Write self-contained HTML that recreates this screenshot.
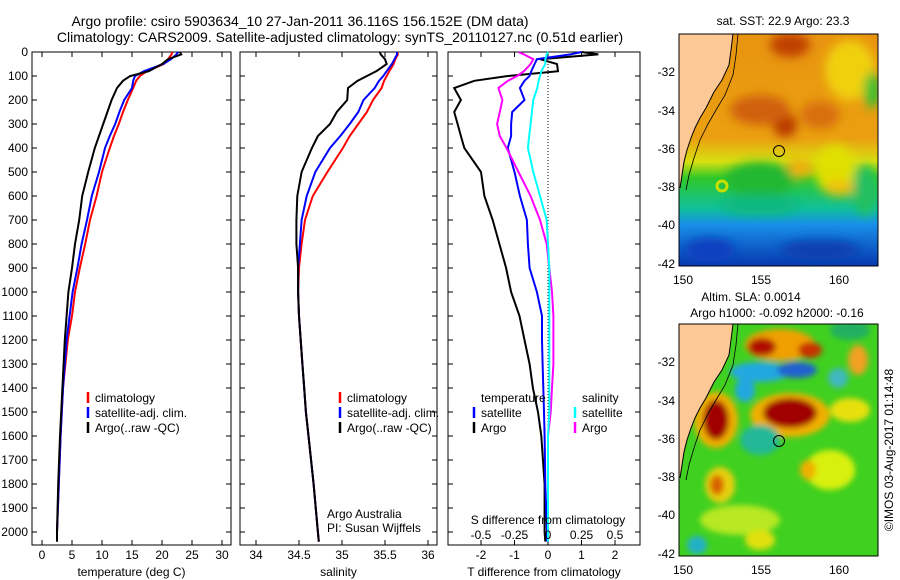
<!DOCTYPE html>
<html><head><meta charset="utf-8"><style>
html,body{margin:0;padding:0;background:#fff;}
svg{display:block;font-family:"Liberation Sans","DejaVu Sans",sans-serif;}
</style></head><body>
<svg id="fig" width="900" height="580" viewBox="0 0 900 580" xmlns="http://www.w3.org/2000/svg">
<defs>
<filter id="blr" x="-50%" y="-50%" width="200%" height="200%"><feGaussianBlur stdDeviation="5"/></filter>
<filter id="blr2" x="-50%" y="-50%" width="200%" height="200%"><feGaussianBlur stdDeviation="3"/></filter>
<clipPath id="c1"><rect x="679" y="34" width="199" height="232"/></clipPath>
<clipPath id="c2"><rect x="679" y="324" width="199" height="232"/></clipPath>
<linearGradient id="sstg" x1="0" y1="0" x2="0" y2="1">
<stop offset="0" stop-color="#e89410"/><stop offset="0.45" stop-color="#eaa010"/>
<stop offset="0.55" stop-color="#d8e010"/><stop offset="0.62" stop-color="#30c828"/>
<stop offset="0.75" stop-color="#10c098"/><stop offset="0.82" stop-color="#1890e8"/>
<stop offset="1" stop-color="#0838b0"/></linearGradient>
</defs>
<g font-size="14" text-anchor="middle" fill="#000">
<text x="300" y="26">Argo profile: csiro 5903634_10 27-Jan-2011 36.116S 156.152E (DM data)</text>
<text x="340" y="42">Climatology: CARS2009. Satellite-adjusted climatology: synTS_20110127.nc (0.51d earlier)</text>
</g>
<g id="charts"></g>

<!-- SST map -->
<g>
<text x="783" y="25" font-size="12" text-anchor="middle">sat. SST: 22.9 Argo: 23.3</text>
<g clip-path="url(#c1)">
<rect x="679" y="34" width="199" height="232" fill="url(#sstg)"/>
<g filter="url(#blr)">
<ellipse cx="790" cy="45" rx="20" ry="12" fill="#c04000"/>
<ellipse cx="785" cy="125" rx="12" ry="12" fill="#b83800"/>
<ellipse cx="760" cy="110" rx="30" ry="15" fill="#d06008"/>
<ellipse cx="820" cy="115" rx="20" ry="14" fill="#d87010"/>
<ellipse cx="850" cy="70" rx="25" ry="30" fill="#f0d010"/>
<ellipse cx="872" cy="90" rx="8" ry="18" fill="#30c030"/>
<ellipse cx="835" cy="170" rx="20" ry="25" fill="#e0e000"/>
<ellipse cx="800" cy="168" rx="14" ry="10" fill="#f0b010"/>
<ellipse cx="840" cy="188" rx="16" ry="8" fill="#f0c010"/>
<ellipse cx="760" cy="180" rx="35" ry="18" fill="#20b830"/>
<ellipse cx="760" cy="205" rx="40" ry="10" fill="#10b880"/>
<ellipse cx="820" cy="250" rx="40" ry="10" fill="#0840b0"/>
<ellipse cx="710" cy="250" rx="25" ry="12" fill="#1040c0"/>
<ellipse cx="865" cy="190" rx="12" ry="25" fill="#20c060"/>
</g>
<circle cx="722" cy="186" r="5" fill="none" stroke="#c8e000" stroke-width="3"/>
<polygon points="679,34 733,34 731,50 729,65 722,80 714,92 706,108 700,118 695,128 691,138 687,150 684,162 682,175 680,188 679,190" fill="#fbc896"/>
<polyline points="733,34 731,50 729,65 722,80 714,92 706,108 700,118 695,128 691,138 687,150 684,162 682,175 680,188" fill="none" stroke="#000" stroke-width="1"/>
<polyline points="738,34 736,55 733,75 725,95 716,110 708,124 700,140 694,158 689,175 686,190" fill="none" stroke="#000" stroke-width="0.8"/>
</g>
<circle cx="779" cy="151" r="5.5" fill="none" stroke="#000" stroke-width="1"/>
<rect x="679" y="34" width="199" height="232" fill="none" stroke="#000"/>
<g font-size="12" text-anchor="end"><text x="675" y="76">-32</text><text x="675" y="115">-34</text><text x="675" y="153">-36</text><text x="675" y="191">-38</text><text x="675" y="229">-40</text><text x="675" y="268">-42</text></g>
<g font-size="12" text-anchor="middle"><text x="683" y="284">150</text><text x="761" y="284">155</text><text x="839" y="284">160</text></g>
</g>

<!-- SLA map -->
<g>
<text x="751" y="301" font-size="12" text-anchor="middle">Altim. SLA: 0.0014</text>
<text x="777" y="317" font-size="12" text-anchor="middle">Argo h1000: -0.092 h2000: -0.16</text>
<g clip-path="url(#c2)">
<rect x="679" y="324" width="199" height="232" fill="#40d020"/>
<g filter="url(#blr2)">
<ellipse cx="780" cy="345" rx="35" ry="16" fill="#f0a000"/>
<ellipse cx="762" cy="347" rx="14" ry="9" fill="#b01000"/>
<ellipse cx="810" cy="350" rx="12" ry="8" fill="#c83000"/>
<ellipse cx="760" cy="372" rx="30" ry="10" fill="#20a8e0"/>
<ellipse cx="797" cy="370" rx="20" ry="8" fill="#2060d0"/>
<ellipse cx="745" cy="390" rx="10" ry="12" fill="#20a8e0"/>
<ellipse cx="716" cy="420" rx="22" ry="28" fill="#f0b000"/>
<ellipse cx="716" cy="420" rx="13" ry="20" fill="#a00000"/>
<ellipse cx="790" cy="415" rx="40" ry="22" fill="#f0b000"/>
<ellipse cx="790" cy="413" rx="27" ry="15" fill="#a00000"/>
<ellipse cx="760" cy="440" rx="20" ry="15" fill="#20b898"/>
<ellipse cx="850" cy="330" rx="20" ry="10" fill="#20b060"/>
<ellipse cx="858" cy="360" rx="10" ry="15" fill="#f0a020"/>
<ellipse cx="838" cy="378" rx="10" ry="10" fill="#40b8c0"/>
<ellipse cx="850" cy="410" rx="20" ry="12" fill="#e8e010"/>
<ellipse cx="830" cy="470" rx="25" ry="20" fill="#d8f010"/>
<ellipse cx="808" cy="470" rx="8" ry="10" fill="#f0b000"/>
<ellipse cx="720" cy="485" rx="15" ry="18" fill="#e8d010"/>
<ellipse cx="717" cy="485" rx="7" ry="10" fill="#d86000"/>
<ellipse cx="740" cy="520" rx="40" ry="15" fill="#b8e820"/>
<ellipse cx="697" cy="545" rx="10" ry="9" fill="#20b0c8"/>
<ellipse cx="760" cy="540" rx="15" ry="10" fill="#e0e010"/>
</g>
<polygon points="679,324 733,324 731,340 729,355 722,370 714,382 706,398 700,408 695,418 691,428 687,440 684,452 682,465 680,478 679,480" fill="#fbc896"/>
<polyline points="733,324 731,340 729,355 722,370 714,382 706,398 700,408 695,418 691,428 687,440 684,452 682,465 680,478" fill="none" stroke="#000" stroke-width="1"/>
<polyline points="738,324 736,345 733,365 725,385 716,400 708,414 700,430 694,448 689,465 686,480" fill="none" stroke="#000" stroke-width="0.8"/>
</g>
<circle cx="779" cy="441" r="5.5" fill="none" stroke="#000" stroke-width="1"/>
<rect x="679" y="324" width="199" height="232" fill="none" stroke="#000"/>
<g font-size="12" text-anchor="end"><text x="675" y="366">-32</text><text x="675" y="405">-34</text><text x="675" y="443">-36</text><text x="675" y="481">-38</text><text x="675" y="519">-40</text><text x="675" y="558">-42</text></g>
<g font-size="12" text-anchor="middle"><text x="683" y="574">150</text><text x="761" y="574">155</text><text x="839" y="574">160</text></g>
<text x="0" y="0" font-size="12" text-anchor="middle" transform="translate(893,450) rotate(-90)">©IMOS 03-Aug-2017 01:14:48</text>
</g>

<script>
const depths = [0,10,30,50,80,100,120,150,200,250,300,350,400,500,600,700,800,900,1000,1100,1200,1300,1400,1500,1600,1800,2000,2040];
const tempClim = [21.7,21.6,21.0,20.3,17.5,16.3,15.7,15.2,14.3,13.5,12.8,12.0,11.3,10.0,9.1,8.0,7.2,6.3,5.5,5.0,4.3,3.9,3.5,3.3,3.1,2.8,2.5,2.5];
const tempSat = [22.7,22.4,21.5,20.2,17.0,15.5,15.2,15.0,13.7,12.9,12.2,11.3,10.5,9.5,8.3,7.5,6.6,5.9,5.1,4.6,4.1,3.8,3.5,3.3,3.1,2.8,2.5,2.5];
const tempArgo = [23.0,23.2,21.0,20.0,17.8,14.7,13.5,12.5,11.6,10.9,10.2,9.5,8.8,7.7,6.7,6.2,5.5,5.0,4.4,4.1,3.8,3.6,3.4,3.2,3.0,2.7,2.5,2.5];
const salClim = [35.64,35.65,35.62,35.60,35.55,35.52,35.49,35.46,35.36,35.29,35.19,35.09,35.01,34.83,34.66,34.57,34.53,34.50,34.49,34.50,34.52,34.54,34.56,34.58,34.61,34.67,34.72,34.73];
const salSat = [35.64,35.64,35.61,35.58,35.52,35.48,35.43,35.38,35.25,35.19,35.09,34.98,34.86,34.69,34.59,34.53,34.51,34.49,34.49,34.50,34.52,34.54,34.56,34.58,34.61,34.67,34.72,34.73];
const salArgo = [35.44,35.45,35.50,35.52,35.40,35.29,35.18,35.07,35.06,34.94,34.86,34.72,34.65,34.53,34.48,34.47,34.47,34.49,34.49,34.50,34.52,34.54,34.56,34.58,34.61,34.67,34.72,34.73];
const tDiffSat = [1.0,0.67,-0.33,-0.4,-0.5,-0.55,-0.7,-0.84,-0.7,-1.07,-1.1,-1.1,-1.2,-1.0,-0.84,-0.63,-0.6,-0.55,-0.33,-0.18,-0.18,-0.16,-0.14,-0.12,-0.1,-0.08,-0.03,-0.03];
const tDiffArgo = [1.0,1.5,-0.24,0.27,0.3,-1.2,-2.2,-2.8,-2.6,-2.8,-2.7,-2.6,-2.5,-2.0,-1.9,-1.65,-1.45,-1.25,-1.1,-0.85,-0.7,-0.55,-0.45,-0.3,-0.2,-0.1,-0.1,-0.08];
const sDiffSat = [0.0,-0.01,-0.02,-0.02,-0.05,-0.06,-0.07,-0.08,-0.11,-0.12,-0.13,-0.14,-0.15,-0.11,-0.06,-0.01,0.0,0.01,0.01,0.01,0.01,0.01,0.01,0.01,0.0,0.0,0.0,0.0];
const sDiffArgo = [-0.22,-0.18,-0.11,-0.13,-0.18,-0.23,-0.3,-0.37,-0.34,-0.36,-0.38,-0.36,-0.31,-0.22,-0.13,-0.06,-0.01,0.01,0.03,0.04,0.04,0.04,0.03,0.02,0.0,0.0,0.0,0.0];
const depthTicks = [0,100,200,300,400,500,600,700,800,900,1000,1100,1200,1300,1400,1500,1600,1700,1800,1900,2000];
const tempTicks = [0,5,10,15,20,25,30];
const salTicks = [34,34.5,35,35.5,36];
const tDiffTicks = [-2,-1,0,1,2];
const sDiffTicks = [-0.5,-0.25,0,0.25,0.5];

const NS='http://www.w3.org/2000/svg';
const root=document.getElementById('charts');
const TOP=52,BOT=545;
const yD=d=>TOP+0.24*d;
const xT=t=>42+6*t;
const xS=s=>256+86*(s-34);
const xTd=v=>548+33.5*v;
const xSd=v=>548+134*v;
function mk(tag,attrs,parent){const e=document.createElementNS(NS,tag);for(const k in attrs)e.setAttribute(k,attrs[k]);(parent||root).appendChild(e);return e;}
function txt(x,y,s,anchor,size,parent){const t=mk('text',{x:x,y:y,'font-size':size||12,'text-anchor':anchor||'middle'},parent);t.textContent=s;return t;}
function line(vals,xf,color,name,g){
  const d=vals.map((v,i)=>(i?'L':'M')+xf(v).toFixed(1)+','+yD(depths[i]).toFixed(1)).join(' ');
  const p=mk('path',{d:d,fill:'none',stroke:color,'stroke-width':2},g);
  
  
}
function panel(name,x0,x1,xticks,xf,labels,title){
  const g=mk('g',{});
  
  
  mk('rect',{x:x0,y:TOP,width:x1-x0,height:BOT-TOP,fill:'none',stroke:'#000'},g);
  depthTicks.forEach(d=>{mk('line',{x1:x0,x2:x0+5,y1:yD(d),y2:yD(d),stroke:'#000'},g);mk('line',{x1:x1,x2:x1-5,y1:yD(d),y2:yD(d),stroke:'#000'},g);});
  xticks.forEach((v,i)=>{const x=xf(v);mk('line',{x1:x,x2:x,y1:TOP,y2:TOP+5,stroke:'#000'},g);mk('line',{x1:x,x2:x,y1:BOT,y2:BOT-5,stroke:'#000'},g);
    if(labels) txt(x,559,String(v),'middle',12,g);});
  if(title) txt((x0+x1)/2,576,title,'middle',12,g);
  return g;
}
// Panel 1
const g1=panel('temperature-panel',32,231,tempTicks,xT,true,'temperature (deg C)');
depthTicks.forEach(d=>txt(28,yD(d)+4,String(d),'end',12,g1));
line(tempClim,xT,'#ff0000','temp-climatology-line',g1);
line(tempSat,xT,'#0000ff','temp-satellite-line',g1);
line(tempArgo,xT,'#000000','temp-argo-line',g1);
// Panel 2
const g2=panel('salinity-panel',240,437,salTicks,xS,true,'salinity');
line(salClim,xS,'#ff0000','sal-climatology-line',g2);
line(salSat,xS,'#0000ff','sal-satellite-line',g2);
line(salArgo,xS,'#000000','sal-argo-line',g2);
txt(327,518,'Argo Australia','start',12,g2);
txt(327,532,'PI: Susan Wijffels','start',12,g2);
// Panel 3
const g3=panel('difference-panel',448,640,tDiffTicks,xTd,true,'T difference from climatology');
mk('line',{x1:548,x2:548,y1:TOP,y2:BOT,stroke:'#000','stroke-dasharray':'1,2'},g3);
line(tDiffArgo,xTd,'#000000','tdiff-argo-line',g3);
line(tDiffSat,xTd,'#0000ff','tdiff-satellite-line',g3);
line(sDiffArgo,xSd,'#ff00ff','sdiff-argo-line',g3);
line(sDiffSat,xSd,'#00ffff','sdiff-satellite-line',g3);
txt(548,524,'S difference from climatology','middle',12,g3);
sDiffTicks.forEach(v=>txt(xSd(v),539,String(v),'middle',12,g3));
// Legends
function legend(x,y,items,g){
  items.forEach((it,i)=>{
    const yy=y+i*15;
    if(it[1]) mk('line',{x1:x,x2:x,y1:yy-10,y2:yy+1,stroke:it[1],'stroke-width':2.5},g);
    const t=txt(x+7,yy,it[0],'start',12,g);
  });
}
legend(88,402,[['climatology','#ff0000'],['satellite-adj. clim.','#0000ff'],['Argo(..raw -QC)','#000000']],g1);
legend(340,402,[['climatology','#ff0000'],['satellite-adj. clim.','#0000ff'],['Argo(..raw -QC)','#000000']],g2);
legend(474,402,[['temperature',null],['satellite','#0000ff'],['Argo','#000000']],g3);
legend(575,402,[['salinity',null],['satellite','#00ffff'],['Argo','#ff00ff']],g3);
</script>
</svg>
</body></html>
